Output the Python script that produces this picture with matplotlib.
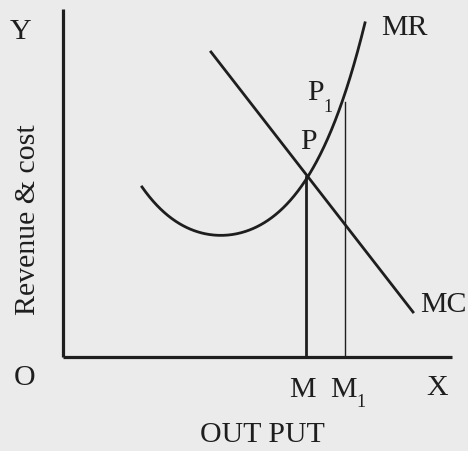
import numpy as np
import matplotlib
matplotlib.use("Agg")
import matplotlib.pyplot as plt

# Data (units: output on x, revenue & cost on y; origin at O)
mr_x = [79, 104, 124, 155, 190, 220, 243, 262, 280, 294, 302]
mr_y = [169, 145, 128, 121, 128, 148, 180, 215, 255, 298, 339]
mc_x = [148, 350]
mc_y = [305, 45]
M_x = 243
M1_x = 282
P_y = 180
P1_y = 255

BG = "#ebebeb"
INK = "#1e1e1e"

fig = plt.figure(figsize=(4.68, 4.52), dpi=100, facecolor=BG)
ax = fig.add_axes([0, 0, 1, 1])
ax.set_facecolor(BG)
ax.set_xlim(-63, 405)
ax.set_ylim(-94, 358)
ax.axis("off")

plt.rcParams["font.family"] = ["Liberation Serif", "DejaVu Serif"]
fs = 21.5
sfs = 13

# axes
ax.plot([0, 0], [0, 348], color=INK, lw=2.3, solid_capstyle="butt")
ax.plot([0, 389], [0, 0], color=INK, lw=2.3, solid_capstyle="butt")

# MR curve (smooth through read points)
coef = np.polyfit(mr_x, mr_y, 4)
xs = np.linspace(mr_x[0], mr_x[-1], 300)
ax.plot(xs, np.polyval(coef, xs), color=INK, lw=2.0)

# MC line
ax.plot(mc_x, mc_y, color=INK, lw=2.0)

# vertical lines
ax.plot([M_x, M_x], [0, P_y], color=INK, lw=2.0)
ax.plot([M1_x, M1_x], [0, P1_y], color=INK, lw=1.0)

# labels
fam = ["Liberation Serif", "DejaVu Serif"]
kw = dict(fontsize=fs, color=INK, family=fam)
skw = dict(fontsize=sfs, color=INK, family=fam)
ax.text(-42, 326, "Y", ha="center", va="center", **kw)
ax.text(-38, -20, "O", ha="center", va="center", **kw)
ax.text(374, -30, "X", ha="center", va="center", **kw)
ax.text(239, -32, "M", ha="center", va="center", **kw)
ax.text(280, -32, "M", ha="center", va="center", **kw)
ax.text(298, -45, "1", ha="center", va="center", **skw)
ax.text(199, -77, "OUT PUT", ha="center", va="center", **kw)
ax.text(-35, 138, "Revenue & cost", ha="center", va="center", rotation=90, **kw)
ax.text(341, 330, "MR", ha="center", va="center", **kw)
ax.text(357, 53, "MC", ha="left", va="center", **kw)
ax.text(245, 216, "P", ha="center", va="center", **kw)
ax.text(252, 265, "P", ha="center", va="center", **kw)
ax.text(265, 251, "1", ha="center", va="center", **skw)

fig.savefig("out.png", dpi=100, facecolor=BG)
